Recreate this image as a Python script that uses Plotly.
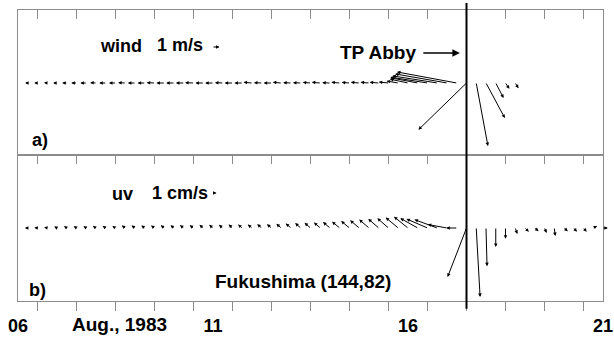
import numpy as np
import plotly.graph_objects as go

# ---------------- data ----------------
# 6-hourly samples, day of August 1983
wind_days = np.arange(6.25, 18.76, 0.25)      # 51 samples
cur_days = np.arange(6.25, 21.01, 0.25)       # 60 samples

# wind components (m/s)
wind_u = [-0.4, -0.5, -0.5, -0.6, -0.7, -0.8,
          -0.9, -0.9, -1.0, -1.0, -1.1, -1.1,
          -1.1, -1.2, -1.2, -1.2, -1.2, -1.3, -1.2, -1.2,
          -1.2, -1.2, -1.2, -1.3, -1.2, -1.2, -1.3, -1.2,
          -1.2, -1.2, -1.3, -1.2, -1.3, -1.2, -1.3, -1.3, -1.4,
          -1.5, -1.8, -2.8, -4.2, -5.7, -6.9, -8.0, -9.2,
          -7.4, 1.8, 2.9, 1.2, 0.6, 0.5]
wind_v = [0.0, 0.0, 0.05, 0.0, 0.0, 0.0,
          0.0, 0.05, 0.0, 0.0, 0.05, 0.0,
          0.0, 0.05, 0.0, 0.0, 0.0, 0.05, 0.0, 0.0,
          0.05, 0.0, 0.0, 0.1, 0.05, 0.0, 0.1, 0.05,
          0.05, 0.1, 0.1, 0.05, 0.1, 0.1, 0.1, 0.1, 0.1,
          0.15, 0.3, 0.6, 0.8, 0.9, 1.1, 1.4, 1.7,
          -7.2, -9.7, -5.4, -2.3, -0.9, -0.8]

# current components (cm/s)
cur_u = [-0.8, -0.9, -0.9, -0.8, -0.8, -0.8,
         -0.8, -0.9, -0.9, -0.9, -1.0, -1.0,
         -1.0, -1.0, -1.0, -1.0, -1.1, -1.1, -1.1, -1.1,
         -1.1, -1.1, -1.2, -1.2, -1.3, -1.3, -1.4, -1.5,
         -1.6, -1.7, -1.8, -2.0, -2.2, -2.4, -2.6, -2.8, -3.0,
         -3.2, -3.6, -4.0, -5.0, -6.0, -6.5, -5.5, -3.0,
         -5.4, 1.1, 0.3, 0.0, 0.0, 0.6, 1.1, 1.1, 0.6, 0.3, 1.1, 0.9, 0.9, 1.1, 1.4]
cur_v = [0.0, 0.1, 0.2, 0.4, 0.5, 0.5,
         0.5, 0.6, 0.6, 0.6, 0.7, 0.7,
         0.7, 0.7, 0.8, 0.8, 0.8, 0.8, 0.9, 0.9,
         0.9, 1.0, 1.0, 1.0, 1.1, 1.1, 1.2, 1.3,
         1.4, 1.5, 1.6, 1.7, 1.8, 2.0, 2.2, 2.4, 2.6,
         2.8, 3.0, 3.2, 2.8, 2.6, 2.4, 1.0, 0.0,
         -14.0, -19.7, -10.9, -5.4, -3.1, -1.7, -1.1, -0.9, -1.4, -2.3, -0.9, -1.1, -1.1, 0.6, 0.0]

typhoon_day = 17.5
x_range = [6, 21]
minor_ticks = np.arange(6.5, 20.6, 1.0)
major_ticks = [6, 11, 16, 21]
major_text = ["06", "11", "16", "21"]

# ---------------- layout constants ----------------
W, H = 614, 343
ML, MR, MT, MB = 18, 11, 10, 42
plot_w = W - ML - MR
plot_h = H - MT - MB
split = 146 / plot_h                    # panel b domain top
px_per_day = plot_w / (x_range[1] - x_range[0])
wind_px = 6.5                           # pixels per m/s
cur_px = 3.5                            # pixels per cm/s

FONT = "Arial, Liberation Sans, sans-serif"
FRAME = "#8c8c8c"

fig = go.Figure()
# invisible carriers so all axes render
for xa, ya in [("x", "y"), ("x2", "y2"), ("x3", "y"), ("x4", "y")]:
    fig.add_trace(go.Scatter(x=[None], y=[None], xaxis=xa, yaxis=ya,
                             showlegend=False, hoverinfo="skip"))

ann = []


def vec(t, u, v, scale, xref, yref, y0=0.0):
    ann.append(dict(x=t + u * scale / px_per_day, y=y0 + v * scale,
                    ax=t, ay=y0, xref=xref, yref=yref, axref=xref, ayref=yref,
                    text="", font=dict(size=1), borderpad=0,
                    showarrow=True, arrowhead=2, arrowsize=0.7,
                    arrowwidth=1, arrowcolor="black", standoff=0, startstandoff=0))


for t, u, v in zip(wind_days, wind_u, wind_v):
    vec(t, u, v, wind_px, "x2", "y2")
for t, u, v in zip(cur_days, cur_u, cur_v):
    vec(t, u, v, cur_px, "x", "y")

# scale arrows
vec(11.0, 1.0, 0.0, wind_px, "x2", "y2", y0=36)
vec(11.0, 1.0, 0.0, cur_px, "x", "y", y0=35)

bold = lambda s: "<b>%s</b>" % s


def txt(x, y, s, size, xref, yref):
    ann.append(dict(x=x, y=y, xref=xref, yref=yref, text=bold(s), showarrow=False,
                    font=dict(family=FONT, size=size, color="black"),
                    xanchor="center", yanchor="middle"))


txt(8.64, 37, "wind", 18, "x2", "y2")
txt(10.15, 38, "1 m/s", 18, "x2", "y2")
txt(6.56, -57, "a)", 18, "x2", "y2")
txt(15.23, 31, "TP Abby", 19, "x2", "y2")
txt(8.67, 34, "uv", 18, "x", "y")
txt(10.15, 35, "1 cm/s", 18, "x", "y")
txt(6.49, -62, "b)", 18, "x", "y")
txt(13.31, -53, "Fukushima (144,82)", 19, "x", "y")
txt(8.59, -0.082, "Aug., 1983", 19, "x", "paper")

# TP Abby pointer
ann.append(dict(x=17.33, y=30, ax=16.38, ay=30, xref="x2", yref="y2",
                axref="x2", ayref="y2", text="", font=dict(size=1), borderpad=0,
                showarrow=True, arrowhead=2,
                arrowsize=1.0, arrowwidth=1.5, arrowcolor="black"))

common = dict(showgrid=False, zeroline=False, automargin=False)

fig.update_layout(
    width=W, height=H, margin=dict(l=ML, r=MR, t=MT, b=MB, autoexpand=False),
    paper_bgcolor="white", plot_bgcolor="white", showlegend=False,
    annotations=ann,
    xaxis=dict(range=x_range, domain=[0, 1], anchor="y",
               showline=True, linecolor=FRAME, linewidth=1, mirror=True,
               tickvals=minor_ticks, ticks="outside", ticklen=9, tickcolor=FRAME,
               showticklabels=False, **common),
    xaxis3=dict(range=x_range, overlaying="x", anchor="y", side="top",
                showline=False, tickvals=minor_ticks, ticks="inside",
                ticklen=9, tickcolor=FRAME, showticklabels=False, **common),
    xaxis4=dict(range=x_range, overlaying="x", anchor="y", side="bottom",
                showline=False, tickvals=major_ticks, ticktext=major_text,
                ticks="outside", ticklen=8, tickcolor="rgba(0,0,0,0)",
                tickfont=dict(family=FONT, size=18, color="black", weight="bold"),
                **common),
    xaxis2=dict(range=x_range, domain=[0, 1], anchor="y2", side="top",
                showline=True, linecolor=FRAME, linewidth=1, mirror=True,
                tickvals=minor_ticks, ticks="inside", ticklen=9, tickcolor=FRAME,
                showticklabels=False, **common),
    yaxis=dict(range=[-73, 73], domain=[0, split], anchor="x",
               showline=True, linecolor=FRAME, mirror=True,
               showticklabels=False, ticks="", **common),
    yaxis2=dict(range=[-72, 73], domain=[split, 1], anchor="x2",
                showline=True, linecolor=FRAME, mirror=True,
                showticklabels=False, ticks="", **common),
    shapes=[dict(type="line", xref="x", yref="paper", x0=typhoon_day, x1=typhoon_day,
                 y0=-0.027, y1=1.024, line=dict(color="black", width=2))],
)

fig.write_html("out.html")
